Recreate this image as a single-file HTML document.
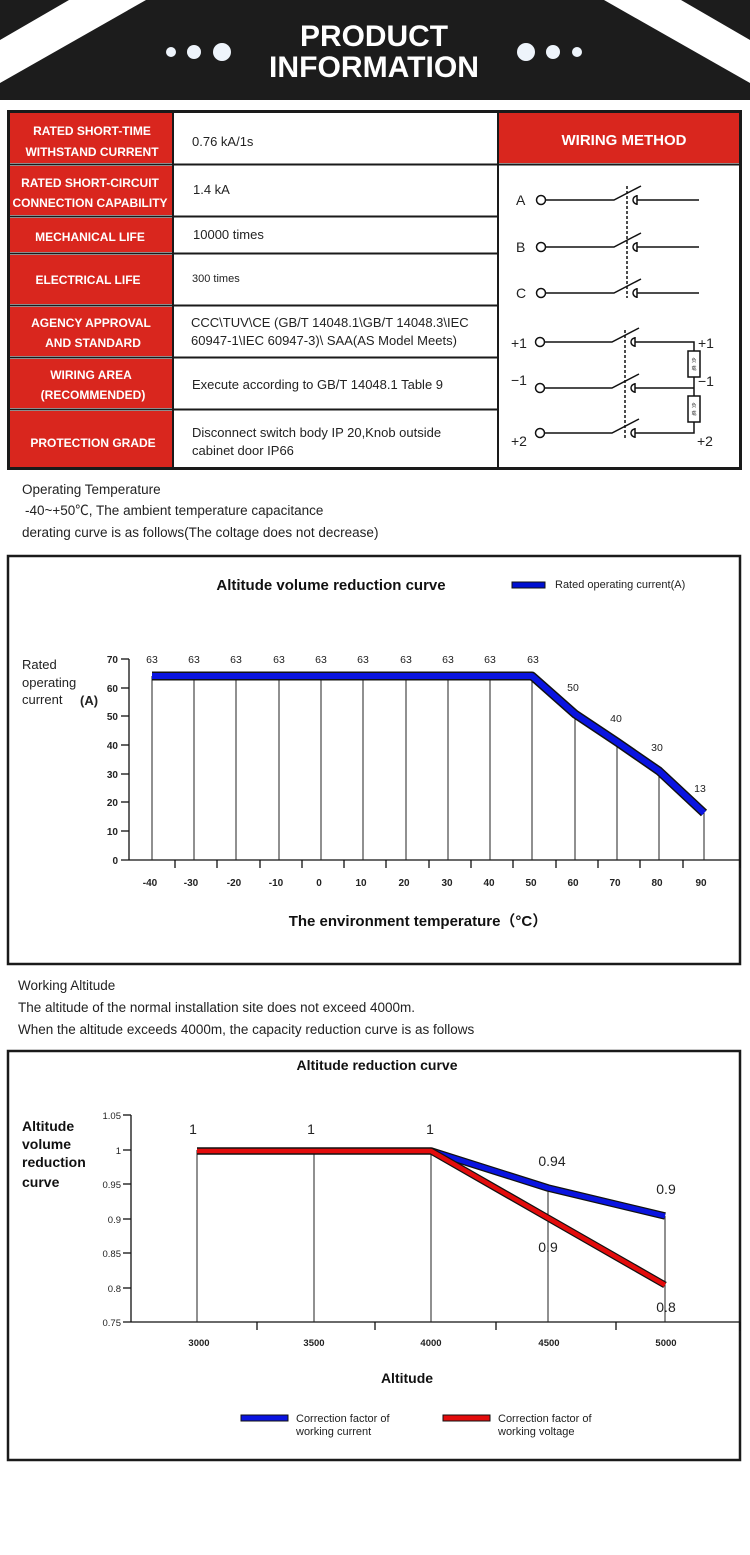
<!DOCTYPE html>
<html><head><meta charset="utf-8"><style>
html,body{margin:0;padding:0;background:#fff;}
svg{display:block;}
text{font-family:"Liberation Sans","Noto Sans CJK SC",sans-serif;}
</style></head><body>
<svg width="750" height="1555" viewBox="0 0 750 1555" xmlns="http://www.w3.org/2000/svg">
<!-- header -->
<rect x="0" y="0" width="750" height="100" fill="#1c1c1c"/>
<polygon points="69,0 146,0 0,83 0,40" fill="#fff"/>
<polygon points="604,0 681,0 750,40 750,83" fill="#fff"/>
<circle cx="171" cy="52" r="5" fill="#eef4fb"/><circle cx="194" cy="52" r="7" fill="#eef4fb"/><circle cx="222" cy="52" r="9" fill="#eef4fb"/>
<circle cx="526" cy="52" r="9" fill="#eef4fb"/><circle cx="553" cy="52" r="7" fill="#eef4fb"/><circle cx="577" cy="52" r="5" fill="#eef4fb"/>
<text x="374" y="46" text-anchor="middle" font-size="30" font-weight="bold" fill="#fff" textLength="148" lengthAdjust="spacingAndGlyphs">PRODUCT</text>
<text x="374" y="77" text-anchor="middle" font-size="30" font-weight="bold" fill="#fff" textLength="210" lengthAdjust="spacingAndGlyphs">INFORMATION</text>

<!-- table -->
<rect x="8.5" y="111.5" width="732" height="357" fill="#fff" stroke="#1a1a1a" stroke-width="3"/>
<g fill="#d9261e">
<rect x="10" y="113" width="162" height="50"/>
<rect x="10" y="166" width="162" height="49"/>
<rect x="10" y="218" width="162" height="34"/>
<rect x="10" y="255" width="162" height="49"/>
<rect x="10" y="307" width="162" height="49"/>
<rect x="10" y="359" width="162" height="49"/>
<rect x="10" y="411" width="162" height="56"/>
<rect x="499" y="113" width="240" height="50"/>
</g>
<g stroke="#1a1a1a" stroke-width="2">
<line x1="173" y1="111" x2="173" y2="468"/>
<line x1="498" y1="111" x2="498" y2="468"/>
<line x1="8" y1="164.5" x2="740" y2="164.5"/>
<line x1="8" y1="216.5" x2="498" y2="216.5"/>
<line x1="8" y1="253.5" x2="498" y2="253.5"/>
<line x1="8" y1="305.5" x2="498" y2="305.5"/>
<line x1="8" y1="357.5" x2="498" y2="357.5"/>
<line x1="8" y1="409.5" x2="498" y2="409.5"/>
</g>
<g font-size="12" font-weight="bold" fill="#fff" text-anchor="middle">
<text x="92" y="135">RATED SHORT-TIME</text><text x="92" y="156">WITHSTAND CURRENT</text>
<text x="90" y="187">RATED SHORT-CIRCUIT</text><text x="90" y="207">CONNECTION CAPABILITY</text>
<text x="90" y="241">MECHANICAL LIFE</text>
<text x="88" y="284">ELECTRICAL LIFE</text>
<text x="91" y="327">AGENCY APPROVAL</text><text x="93" y="347">AND STANDARD</text>
<text x="91" y="379">WIRING AREA</text><text x="93" y="399">(RECOMMENDED)</text>
<text x="93" y="447">PROTECTION GRADE</text>
<text x="624" y="145" font-size="15">WIRING METHOD</text>
</g>
<g font-size="13" fill="#222">
<text x="192" y="146">0.76 kA/1s</text>
<text x="193" y="194">1.4 kA</text>
<text x="193" y="239">10000 times</text>
<text x="192" y="282" font-size="11">300 times</text>
<text x="191" y="327">CCC\TUV\CE (GB/T 14048.1\GB/T 14048.3\IEC</text>
<text x="191" y="345">60947-1\IEC 60947-3)\ SAA(AS Model Meets)</text>
<text x="192" y="389">Execute according to GB/T 14048.1 Table 9</text>
<text x="192" y="437">Disconnect switch body IP 20,Knob outside</text>
<text x="192" y="455">cabinet door IP66</text>
</g>

<!-- wiring diagram -->
<g stroke="#111" stroke-width="1.5" fill="none">
<circle cx="541" cy="200" r="4.5"/><circle cx="541" cy="247" r="4.5"/><circle cx="541" cy="293" r="4.5"/>
<circle cx="540" cy="342" r="4.5"/><circle cx="540" cy="388" r="4.5"/><circle cx="540" cy="433" r="4.5"/>
<path d="M546 200H614L641 186M546 247H614L641 233M546 293H614L641 279"/>
<path d="M545 342H612L639 328M545 388H612L639 374M545 433H612L639 419"/>
<path d="M627 186V298M625 330V438" stroke-dasharray="3,2"/>
<path d="M637 196a4 4 0 1 0 0 8M637 195v10M637 200H699"/>
<path d="M637 243a4 4 0 1 0 0 8M637 242v10M637 247H699"/>
<path d="M637 289a4 4 0 1 0 0 8M637 288v10M637 293H699"/>
<path d="M635 338a4 4 0 1 0 0 8M635 337v10M635 342H694V433H635"/>
<path d="M635 384a4 4 0 1 0 0 8M635 383v10M635 388H694"/>
<path d="M635 429a4 4 0 1 0 0 8M635 428v10"/>
<rect x="688" y="351" width="12" height="26" fill="#fff"/>
<rect x="688" y="396" width="12" height="26" fill="#fff"/>
</g>
<g font-size="5" fill="#333" text-anchor="middle"><text x="694" y="362">负</text><text x="694" y="370">载</text><text x="694" y="407">负</text><text x="694" y="415">载</text></g>
<g font-size="14" fill="#222">
<text x="516" y="205">A</text><text x="516" y="252">B</text><text x="516" y="298">C</text>
<text x="511" y="348">+1</text><text x="511" y="385">−1</text><text x="511" y="446">+2</text>
<text x="698" y="348">+1</text><text x="698" y="386">−1</text><text x="697" y="446">+2</text>
</g>

<!-- text 1 -->
<g font-size="13.5" fill="#222">
<text x="22" y="494">Operating Temperature</text>
<text x="25" y="515">-40~+50℃, The ambient temperature capacitance</text>
<text x="22" y="537">derating curve is as follows(The coltage does not decrease)</text>
</g>

<!-- chart 1 -->
<rect x="8" y="556" width="732" height="408" fill="#fff" stroke="#1a1a1a" stroke-width="2.5"/>
<text x="331" y="590" text-anchor="middle" font-size="15" font-weight="bold" fill="#111">Altitude volume reduction curve</text>
<rect x="512" y="582" width="33" height="6" fill="#0010d0" stroke="#111" stroke-width="1"/>
<text x="555" y="588" font-size="11" fill="#222">Rated operating current(A)</text>
<g font-size="13" fill="#222"><text x="22" y="669">Rated</text><text x="22" y="687">operating</text><text x="22" y="704">current</text><text x="80" y="705" font-weight="bold">(A)</text></g>
<g stroke="#111" stroke-width="1.3">
<line x1="129" y1="659" x2="129" y2="860"/>
<line x1="121" y1="860" x2="740" y2="860"/>
<line x1="740" y1="860" x2="740" y2="868"/>
</g>
<g font-size="10" font-weight="bold" fill="#222" text-anchor="end">
<text x="118" y="663">70</text><text x="118" y="692">60</text><text x="118" y="720">50</text><text x="118" y="749">40</text><text x="118" y="778">30</text><text x="118" y="806">20</text><text x="118" y="835">10</text><text x="118" y="864">0</text>
</g>
<g stroke="#111" stroke-width="1.3">
<line x1="121" y1="659" x2="129" y2="659"/><line x1="121" y1="688" x2="129" y2="688"/><line x1="121" y1="716" x2="129" y2="716"/><line x1="121" y1="745" x2="129" y2="745"/><line x1="121" y1="774" x2="129" y2="774"/><line x1="121" y1="802" x2="129" y2="802"/><line x1="121" y1="831" x2="129" y2="831"/>
</g>
<g stroke="#222" stroke-width="1">
<line x1="152" y1="676" x2="152" y2="860"/><line x1="194" y1="676" x2="194" y2="860"/><line x1="236" y1="676" x2="236" y2="860"/><line x1="279" y1="676" x2="279" y2="860"/><line x1="321" y1="676" x2="321" y2="860"/><line x1="363" y1="676" x2="363" y2="860"/><line x1="406" y1="676" x2="406" y2="860"/><line x1="448" y1="676" x2="448" y2="860"/><line x1="490" y1="676" x2="490" y2="860"/><line x1="532" y1="676" x2="532" y2="860"/>
<line x1="575" y1="714" x2="575" y2="860"/><line x1="617" y1="742" x2="617" y2="860"/><line x1="659" y1="771" x2="659" y2="860"/><line x1="704" y1="813" x2="704" y2="860"/>
</g>
<g stroke="#111" stroke-width="1.3">
<line x1="175" y1="860" x2="175" y2="868"/><line x1="217" y1="860" x2="217" y2="868"/><line x1="260" y1="860" x2="260" y2="868"/><line x1="302" y1="860" x2="302" y2="868"/><line x1="344" y1="860" x2="344" y2="868"/><line x1="386" y1="860" x2="386" y2="868"/><line x1="429" y1="860" x2="429" y2="868"/><line x1="471" y1="860" x2="471" y2="868"/><line x1="513" y1="860" x2="513" y2="868"/><line x1="556" y1="860" x2="556" y2="868"/><line x1="598" y1="860" x2="598" y2="868"/><line x1="640" y1="860" x2="640" y2="868"/><line x1="683" y1="860" x2="683" y2="868"/>
</g>
<polyline points="152,676 532,676 575,714 617,742 659,771 704,813" fill="none" stroke="#111" stroke-width="9" stroke-linejoin="round"/>
<polyline points="152,676 532,676 575,714 617,742 659,771 704,813" fill="none" stroke="#0a14e0" stroke-width="6" stroke-linejoin="round"/>
<g font-size="10.5" fill="#222" text-anchor="middle">
<text x="152" y="663">63</text><text x="194" y="663">63</text><text x="236" y="663">63</text><text x="279" y="663">63</text><text x="321" y="663">63</text><text x="363" y="663">63</text><text x="406" y="663">63</text><text x="448" y="663">63</text><text x="490" y="663">63</text><text x="533" y="663">63</text>
<text x="573" y="691">50</text><text x="616" y="722">40</text><text x="657" y="751">30</text><text x="700" y="792">13</text>
</g>
<g font-size="10" font-weight="bold" fill="#222" text-anchor="middle">
<text x="150" y="886">-40</text><text x="191" y="886">-30</text><text x="234" y="886">-20</text><text x="276" y="886">-10</text><text x="319" y="886">0</text><text x="361" y="886">10</text><text x="404" y="886">20</text><text x="447" y="886">30</text><text x="489" y="886">40</text><text x="531" y="886">50</text><text x="573" y="886">60</text><text x="615" y="886">70</text><text x="657" y="886">80</text><text x="701" y="886">90</text>
</g>
<text x="418" y="926" text-anchor="middle" font-size="15" font-weight="bold" fill="#111">The environment temperature（°C）</text>

<!-- text 2 -->
<g font-size="13.5" fill="#222">
<text x="18" y="990">Working Altitude</text>
<text x="18" y="1012">The altitude of the normal installation site does not exceed 4000m.</text>
<text x="18" y="1034">When the altitude exceeds 4000m, the capacity reduction curve is as follows</text>
</g>

<!-- chart 2 -->
<rect x="8" y="1051" width="732" height="409" fill="#fff" stroke="#1a1a1a" stroke-width="2.5"/>
<text x="377" y="1070" text-anchor="middle" font-size="14" font-weight="bold" fill="#111">Altitude reduction curve</text>
<g font-size="14" font-weight="bold" fill="#111"><text x="22" y="1131">Altitude</text><text x="22" y="1149">volume</text><text x="22" y="1167">reduction</text><text x="22" y="1187">curve</text></g>
<g stroke="#111" stroke-width="1.3">
<line x1="131" y1="1115" x2="131" y2="1322"/>
<line x1="123" y1="1322" x2="740" y2="1322"/>
<line x1="740" y1="1322" x2="740" y2="1331"/>
<line x1="123" y1="1115" x2="131" y2="1115"/><line x1="123" y1="1150" x2="131" y2="1150"/><line x1="123" y1="1184" x2="131" y2="1184"/><line x1="123" y1="1219" x2="131" y2="1219"/><line x1="123" y1="1253" x2="131" y2="1253"/><line x1="123" y1="1288" x2="131" y2="1288"/>
<line x1="257" y1="1322" x2="257" y2="1330"/><line x1="375" y1="1322" x2="375" y2="1330"/><line x1="496" y1="1322" x2="496" y2="1330"/><line x1="616" y1="1322" x2="616" y2="1330"/>
</g>
<g font-size="9.5" fill="#222" text-anchor="end">
<text x="121" y="1119">1.05</text><text x="121" y="1154">1</text><text x="121" y="1188">0.95</text><text x="121" y="1223">0.9</text><text x="121" y="1257">0.85</text><text x="121" y="1292">0.8</text><text x="121" y="1326">0.75</text>
</g>
<g stroke="#222" stroke-width="1">
<line x1="197" y1="1150" x2="197" y2="1322"/><line x1="314" y1="1150" x2="314" y2="1322"/><line x1="431" y1="1150" x2="431" y2="1322"/><line x1="548" y1="1188" x2="548" y2="1322"/><line x1="665" y1="1216" x2="665" y2="1322"/>
</g>
<polyline points="197,1151 431,1151 548,1188 665,1216" fill="none" stroke="#111" stroke-width="7.5" stroke-linejoin="round"/>
<polyline points="197,1151 431,1151 548,1188 665,1216" fill="none" stroke="#0a14e0" stroke-width="5" stroke-linejoin="round"/>
<polyline points="197,1151 431,1151 548,1218 665,1285" fill="none" stroke="#111" stroke-width="7" stroke-linejoin="round"/>
<polyline points="197,1151 431,1151 548,1218 665,1285" fill="none" stroke="#e30c0c" stroke-width="4.5" stroke-linejoin="round"/>
<g font-size="14" fill="#222" text-anchor="middle">
<text x="193" y="1134">1</text><text x="311" y="1134">1</text><text x="430" y="1134">1</text>
<text x="552" y="1166">0.94</text><text x="666" y="1194">0.9</text><text x="548" y="1252">0.9</text><text x="666" y="1312">0.8</text>
</g>
<g font-size="9.5" font-weight="bold" fill="#222" text-anchor="middle">
<text x="199" y="1346">3000</text><text x="314" y="1346">3500</text><text x="431" y="1346">4000</text><text x="549" y="1346">4500</text><text x="666" y="1346">5000</text>
</g>
<text x="407" y="1383" text-anchor="middle" font-size="14" font-weight="bold" fill="#111">Altitude</text>
<rect x="241" y="1415" width="47" height="6" fill="#0a14e0" stroke="#111" stroke-width="1"/>
<rect x="443" y="1415" width="47" height="6" fill="#e30c0c" stroke="#111" stroke-width="1"/>
<g font-size="11" fill="#222">
<text x="296" y="1422">Correction factor of</text><text x="296" y="1435">working current</text>
<text x="498" y="1422">Correction factor of</text><text x="498" y="1435">working voltage</text>
</g>
</svg>
</body></html>
